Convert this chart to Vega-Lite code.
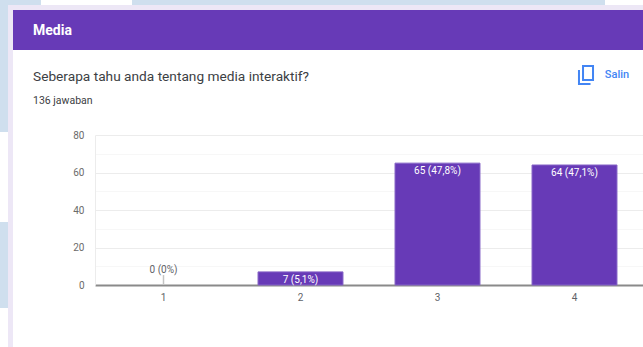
{
  "$schema": "https://vega.github.io/schema/vega-lite/v6.json",
  "background": "#ffffff",
  "padding": 0,
  "config": {
    "view": {"stroke": null},
    "font": "Roboto",
    "concat": {"spacing": 0},
    "title": {"font": "Roboto"}
  },
  "data": {"values": []},
  "spacing": 0,
  "vconcat": [
    {
      "spacing": 0,
      "bounds": "flush",
      "hconcat": [
        {"mark": "rect", "encoding": {}, "width": 41, "height": 5, "view": {"fill": "#cfdfee"}},
        {"mark": "rect", "encoding": {}, "width": 91, "height": 5, "view": {"fill": "#ffffff"}},
        {"mark": "rect", "encoding": {}, "width": 473, "height": 5, "view": {"fill": "#cfdfee"}},
        {"mark": "rect", "encoding": {}, "width": 38, "height": 5, "view": {"fill": "#ffffff"}}
      ]
    },
    {
      "spacing": 0,
      "hconcat": [
        {
          "spacing": 0,
          "bounds": "flush",
          "vconcat": [
            {"mark": "rect", "encoding": {}, "width": 8, "height": 127, "view": {"fill": "#cfdfee"}},
            {"mark": "rect", "encoding": {}, "width": 8, "height": 90, "view": {"fill": "#ffffff"}},
            {"mark": "rect", "encoding": {}, "width": 8, "height": 86, "view": {"fill": "#cfdfee"}},
            {"mark": "rect", "encoding": {}, "width": 8, "height": 39, "view": {"fill": "#ffffff"}}
          ]
        },
        {"mark": "rect", "encoding": {}, "width": 5, "height": 342, "view": {"fill": "#ede7f6"}},
        {
          "spacing": 0,
          "vconcat": [
            {"mark": "rect", "encoding": {}, "width": 630, "height": 5, "view": {"fill": "#ede7f6"}},
            {
              "mark": "rect",
              "encoding": {},
              "width": 630,
              "height": 40,
              "view": {"fill": "#673ab7"},
              "title": {
                "text": "Media",
                "anchor": "start",
                "frame": "group",
                "orient": "top",
                "offset": -28,
                "dx": 20,
                "color": "#ffffff",
                "fontSize": 14,
                "fontWeight": 700
              }
            },
            {
              "spacing": 0,
              "hconcat": [
                {
                  "mark": "rect",
                  "encoding": {},
                  "width": 552,
                  "height": 80,
                  "title": {
                    "text": "Seberapa tahu anda tentang media interaktif?",
                    "subtitle": "136 jawaban",
                    "anchor": "start",
                    "frame": "group",
                    "orient": "top",
                    "offset": -56,
                    "dx": 20,
                    "color": "#3c4043",
                    "fontSize": 13.7,
                    "fontWeight": 400,
                    "subtitleColor": "#3c4043",
                    "subtitleFont": "Roboto",
                    "subtitleFontSize": 10.5,
                    "subtitlePadding": 12
                  }
                },
                {
                  "spacing": 0,
                  "vconcat": [
                    {"mark": "rect", "encoding": {}, "width": 78, "height": 10},
                    {
                      "spacing": 0,
                      "bounds": "flush",
                      "hconcat": [
                        {"mark": "rect", "encoding": {}, "width": 9, "height": 30},
                        {
                          "data": {"values": [{"ikon": "salin"}]},
                          "mark": {
                            "type": "point",
                            "shape": "M-0.33 -1H0.78V0.55H-0.33ZM-0.78 -0.55V1H0.5",
                            "size": 324,
                            "filled": false,
                            "stroke": "#4285f4",
                            "strokeWidth": 2,
                            "opacity": 1
                          },
                          "encoding": {},
                          "width": 24,
                          "height": 30
                        },
                        {
                          "data": {"values": [{"aksi": "Salin"}]},
                          "mark": {"type": "text", "color": "#4285f4", "fontSize": 11, "fontWeight": 500, "font": "Roboto"},
                          "encoding": {"text": {"field": "aksi"}},
                          "width": 38,
                          "height": 30
                        }
                      ]
                    }
                  ]
                }
              ]
            },
            {
              "spacing": 0,
              "bounds": "flush",
              "hconcat": [
                {"mark": "rect", "encoding": {}, "width": 82, "height": 150},
                {
                  "width": 548,
                  "height": 150,
                  "data": {
                    "values": [
                      {"skala": "1", "jumlah": 0, "label": "0 (0%)", "penanda": 5.3},
                      {"skala": "2", "jumlah": 7, "label": "7 (5,1%)"},
                      {"skala": "3", "jumlah": 65, "label": "65 (47,8%)"},
                      {"skala": "4", "jumlah": 64, "label": "64 (47,1%)"}
                    ]
                  },
                  "encoding": {
                    "x": {
                      "field": "skala",
                      "type": "nominal",
                      "title": null,
                      "sort": null,
                      "scale": {"paddingInner": 0.38, "paddingOuter": 0.19},
                      "axis": {
                        "labelAngle": 0,
                        "labelFont": "Roboto",
                        "labelFontSize": 10,
                        "labelColor": "#5f6368",
                        "labelPadding": 7,
                        "ticks": false,
                        "domainColor": "#8a8a8a",
                        "domainWidth": 2
                      }
                    },
                    "y": {
                      "field": "jumlah",
                      "type": "quantitative",
                      "title": null,
                      "scale": {"domain": [0, 80], "nice": false},
                      "axis": {
                        "values": [0, 10, 20, 30, 40, 50, 60, 70, 80],
                        "labelExpr": "datum.value % 20 === 0 ? datum.label : ''",
                        "labelFont": "Roboto",
                        "labelFontSize": 10,
                        "labelColor": "#6b6b6b",
                        "labelPadding": 11,
                        "ticks": false,
                        "domainColor": "#ececec",
                        "grid": true,
                        "gridColor": {
                          "condition": {"test": "datum.value % 20 === 0", "value": "#ececec"},
                          "value": "#f7f7f7"
                        }
                      }
                    }
                  },
                  "layer": [
                    {
                      "transform": [{"filter": "datum.penanda > 0"}],
                      "mark": {"type": "rule", "color": "#c4c4c4", "strokeWidth": 1.5},
                      "encoding": {"y": {"field": "jumlah", "type": "quantitative"}, "y2": {"field": "penanda"}}
                    },
                    {
                      "transform": [{"filter": "datum.jumlah > 0"}],
                      "mark": {"type": "bar", "color": "#673ab7", "stroke": "#8563c6", "strokeWidth": 1},
                      "encoding": {}
                    },
                    {
                      "transform": [{"filter": "datum.jumlah > 0"}],
                      "mark": {"type": "text", "color": "#ffffff", "fontSize": 10, "font": "Roboto", "baseline": "middle", "dy": 8},
                      "encoding": {"text": {"field": "label"}}
                    },
                    {
                      "transform": [{"filter": "datum.jumlah === 0"}],
                      "mark": {"type": "text", "color": "#5f6368", "fontSize": 10, "font": "Roboto", "baseline": "middle", "dy": -15},
                      "encoding": {"text": {"field": "label"}}
                    }
                  ]
                }
              ]
            }
          ]
        }
      ]
    }
  ]
}
